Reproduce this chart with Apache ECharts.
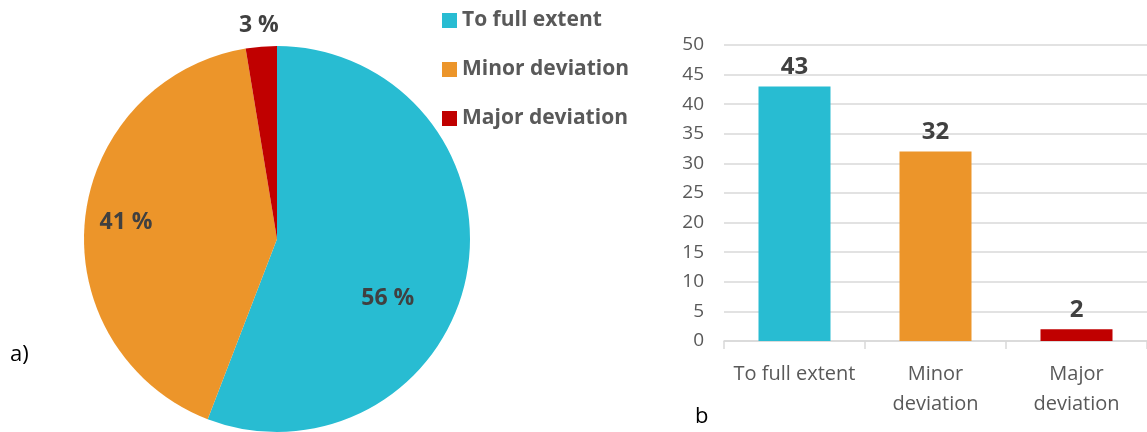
<!DOCTYPE html>
<html>
<head>
<meta charset="utf-8">
<style>
  html, body { margin: 0; padding: 0; background: #fff; }
  #chart { width: 1147px; height: 432px; }
</style>
<script src="https://cdn.jsdelivr.net/npm/echarts@6/dist/echarts.min.js"></script>
</head>
<body>
<div id="chart"></div>
<script>
var categories = ["To full extent", "Minor deviation", "Major deviation"];
var barLabels = ["To full extent", "Minor\ndeviation", "Major\ndeviation"];
var counts = [43, 32, 2];
var pieLabels = ["56 %", "41 %", "3 %"];
var colors = ["#28BCD2", "#EC952A", "#C00000"];

// label nudges for the pie, Excel-like placement
var pieLabelOffsets = [[13, 41], [-52, -6], [-10, -114]];

var myChart = echarts.init(document.getElementById("chart"));

var pieData = categories.map(function (name, i) {
  return {
    name: name,
    value: counts[i],
    itemStyle: { color: colors[i] },
    label: { offset: pieLabelOffsets[i] },
  };
});

var barData = counts.map(function (v, i) {
  return { value: v, itemStyle: { color: colors[i] } };
});

var option = {
  animation: false,
  textStyle: { fontFamily: "Open Sans" },
  legend: {
    orient: "vertical",
    left: 437,
    top: 5,
    itemWidth: 15,
    itemHeight: 15,
    itemGap: 28,
    icon: "rect",
    data: categories,
    textStyle: {
      fontFamily: "Open Sans",
      fontWeight: "bold",
      fontSize: 21,
      lineHeight: 21,
      color: "#595959",
    },
  },
  graphic: [
    {
      type: "text",
      left: 10,
      top: 344,
      style: { text: "a)", fontFamily: "Open Sans", fontSize: 22, fill: "#000" },
    },
    {
      type: "text",
      left: 695,
      top: 406,
      style: { text: "b", fontFamily: "Open Sans", fontSize: 22, fill: "#000" },
    },
  ],
  grid: {
    left: 724,
    top: 45,
    width: 431,
    height: 296,
  },
  xAxis: {
    type: "category",
    data: barLabels,
    axisLine: { lineStyle: { color: "#d9d9d9", width: 1.5 } },
    axisTick: { show: true, length: 8, lineStyle: { color: "#d9d9d9", width: 1.5 } },
    axisLabel: {
      interval: 0,
      margin: 18,
      color: "#595959",
      fontSize: 20,
      lineHeight: 30,
      fontFamily: "Open Sans",
    },
  },
  yAxis: {
    type: "value",
    min: 0,
    max: 50,
    interval: 5,
    axisLine: { show: false },
    axisTick: { show: false },
    axisLabel: { color: "#595959", fontSize: 19, margin: 20, fontFamily: "Open Sans" },
    splitLine: { lineStyle: { color: "#d9d9d9", width: 1.5 } },
  },
  series: [
    {
      type: "pie",
      center: [277, 239],
      radius: 193,
      startAngle: 90,
      clockwise: true,
      avoidLabelOverlap: false,
      label: {
        show: true,
        position: "inside",
        fontFamily: "Open Sans",
        fontWeight: "bold",
        fontSize: 23,
        color: "#404040",
        formatter: function (p) {
          return pieLabels[p.dataIndex];
        },
      },
      labelLine: { show: false },
      emphasis: { disabled: true },
      data: pieData,
    },
    {
      type: "bar",
      name: "Count",
      barWidth: 72,
      data: barData,
      label: {
        show: true,
        position: "top",
        distance: 7,
        fontFamily: "Open Sans",
        fontWeight: "bold",
        fontSize: 24,
        color: "#404040",
      },
    },
  ],
};

myChart.setOption(option);
window.addEventListener("resize", function () {
  myChart.resize();
});
</script>
</body>
</html>
